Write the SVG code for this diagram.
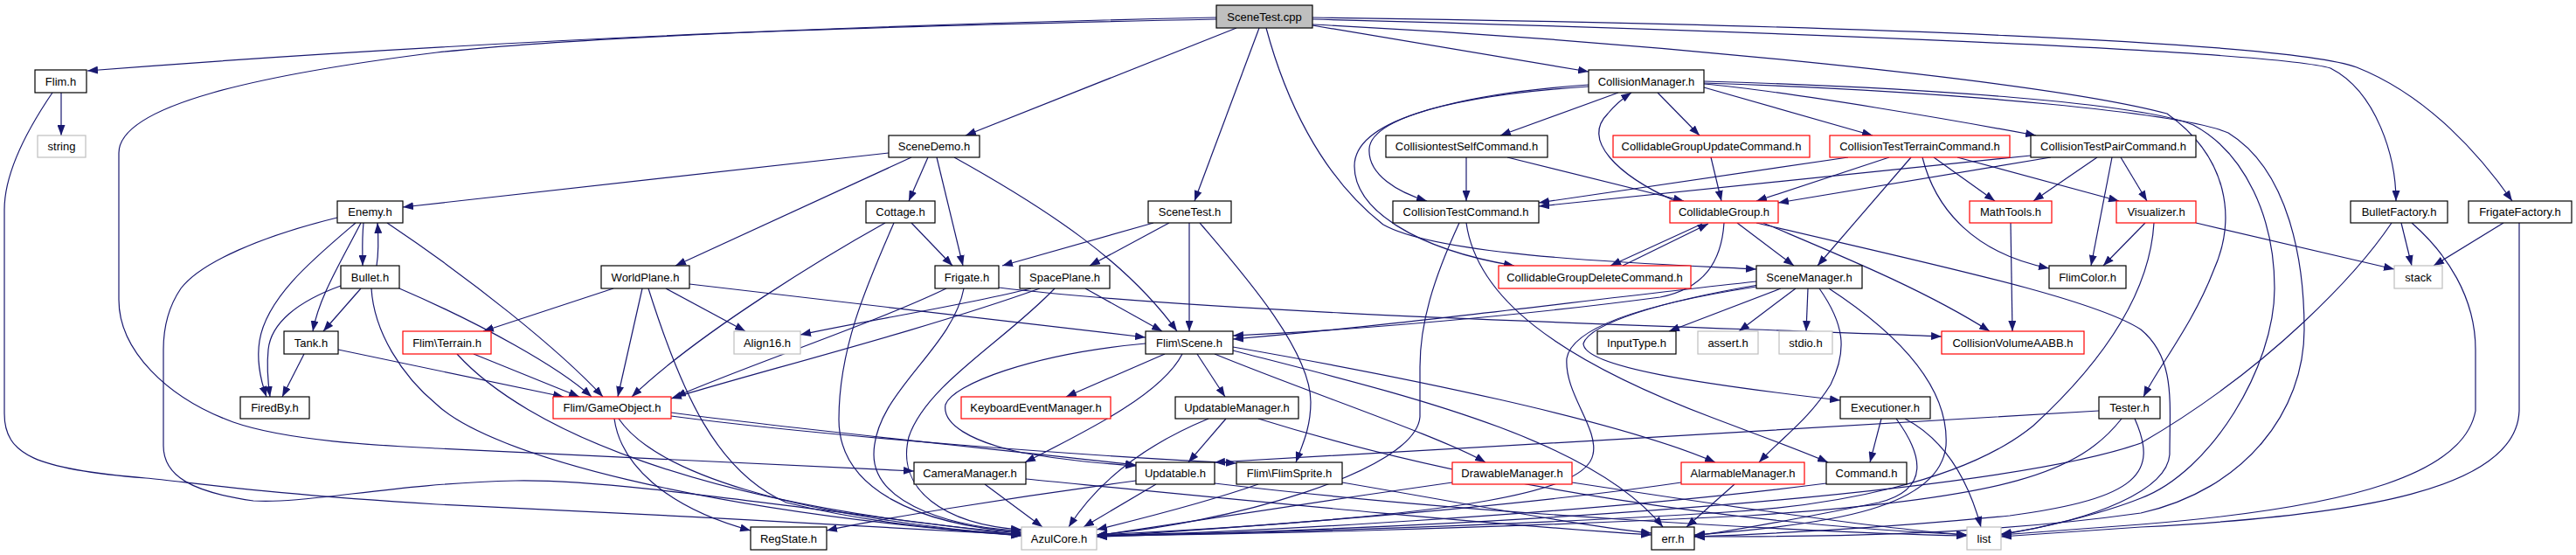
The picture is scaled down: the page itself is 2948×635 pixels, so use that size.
<svg xmlns="http://www.w3.org/2000/svg" width="2948" height="635" viewBox="0 0 2948 635">
<style>
.n rect{fill:#fff;stroke:#000;stroke-width:1.2}
.n.g rect{stroke:#bfbfbf}
.n.r rect{stroke:#ff0000}
.n.root rect{fill:#bfbfbf}
.n text{font-family:"Liberation Sans",Arial,sans-serif;font-size:13px;fill:#000;text-anchor:middle}
.e path{fill:none;stroke:#191970;stroke-width:1.2;marker-end:url(#a)}
</style>
<defs>
<marker id="a" viewBox="0 0 12 9" refX="12" refY="4.5" markerWidth="12" markerHeight="9" markerUnits="userSpaceOnUse" orient="auto"><path d="M0,0L12,4.5L0,9z" fill="#191970"/></marker>
</defs>
<rect width="2948" height="635" fill="#fff"/>
<g id="edges" class="e">
<path d="M1392,20 C1100,26 600,42 100,81"/>
<path d="M1392,22 C1100,28 700,38 500,60 C300,85 136,120 136,175 L136,343 C136,400 190,455 267,483 C330,505 440,510 500,513 L1046,539"/>
<path d="M1415,32 L1105,155"/>
<path d="M1441,32 L1367,230"/>
<path d="M1449,32 C1470,110 1510,200 1583,257 C1650,295 1900,302 2010,308"/>
<path d="M1502,29 L1818,82"/>
<path d="M1502,22 C2000,35 2600,58 2667,78 C2720,105 2742,180 2742,230"/>
<path d="M1502,20 C2100,28 2620,48 2697,77 C2780,110 2840,180 2875,230"/>
<path d="M1502,28 C1900,48 2350,95 2480,130 C2550,180 2560,250 2533,310 C2510,370 2470,420 2453,454"/>
<path d="M70,106 L70,155"/>
<path d="M60,106 C30,150 5,200 5,240 L5,473 C5,520 40,537 167,547 C220,552 300,565 500,577 C700,586 1000,602 1169,612"/>
<path d="M1017,175 L461,237"/>
<path d="M1043,180 L773,304"/>
<path d="M1062,180 L1040,230"/>
<path d="M1072,180 L1102,304"/>
<path d="M1092,180 C1200,240 1290,300 1347,379"/>
<path d="M416,255 C414,275 415,290 415,304"/>
<path d="M431,304 C434,285 433,270 432,255"/>
<path d="M413,255 C390,300 365,340 358,379"/>
<path d="M407,255 C360,295 305,340 297,390 C293,415 300,440 305,454"/>
<path d="M443,255 C540,320 640,400 690,454"/>
<path d="M386,249 C300,270 230,300 207,330 C190,355 187,380 187,400 L187,510 C187,545 220,563 290,573 C350,577 450,553 590,550 C700,548 900,580 1169,612"/>
<path d="M413,330 L370,379"/>
<path d="M390,327 C340,345 310,370 307,400 C305,420 307,440 309,454"/>
<path d="M457,330 C550,370 640,420 677,454"/>
<path d="M425,330 C428,380 460,430 500,463 C560,520 800,585 1169,613"/>
<path d="M348,405 L323,454"/>
<path d="M387,400 L645,454"/>
<path d="M702,330 L553,379"/>
<path d="M735,330 L707,454"/>
<path d="M762,330 L853,379"/>
<path d="M789,325 L1311,386"/>
<path d="M742,330 C780,450 820,540 900,575 C1000,600 1100,608 1169,611"/>
<path d="M542,405 L663,454"/>
<path d="M523,405 C600,490 800,580 1169,610"/>
<path d="M1043,255 L1090,304"/>
<path d="M1013,255 C950,290 800,380 723,454"/>
<path d="M1023,255 C990,330 960,400 960,480 C960,560 1050,600 1169,609"/>
<path d="M1083,330 C1000,370 850,420 773,454"/>
<path d="M1103,330 C1090,400 1000,450 1000,520 C1000,580 1100,605 1169,607"/>
<path d="M1143,329 C1400,360 1900,372 2222,385"/>
<path d="M1180,330 C1100,350 1000,365 916,383"/>
<path d="M1190,330 C1050,380 850,430 768,456"/>
<path d="M1242,330 L1330,379"/>
<path d="M1207,330 C1150,390 1060,440 1040,500 C1025,560 1080,600 1169,606"/>
<path d="M1320,255 L1147,304"/>
<path d="M1338,255 L1247,304"/>
<path d="M1361,255 L1361,379"/>
<path d="M1373,255 C1420,310 1500,400 1500,460 C1500,490 1490,510 1483,529"/>
<path d="M1333,405 L1220,454"/>
<path d="M1370,405 L1402,454"/>
<path d="M1353,405 C1330,450 1250,490 1173,529"/>
<path d="M1390,405 C1500,450 1650,500 1700,529"/>
<path d="M1411,397 C1600,430 1850,480 1963,529"/>
<path d="M1311,393 C1180,405 1090,440 1082,463 C1078,485 1110,505 1170,518 C1220,527 1260,530 1300,533"/>
<path d="M1411,401 C1600,450 1820,500 1903,603"/>
<path d="M1403,479 L1360,529"/>
<path d="M1383,479 C1320,505 1260,545 1223,603"/>
<path d="M1440,479 C1700,560 2000,600 2251,612"/>
<path d="M1127,554 L1193,603"/>
<path d="M1174,548 C1400,570 1700,600 1890,612"/>
<path d="M1323,554 L1240,603"/>
<path d="M1300,550 C1150,570 1000,595 946,607"/>
<path d="M1390,553 C1700,590 2100,610 2251,613"/>
<path d="M1440,554 C1380,575 1300,595 1255,606"/>
<path d="M1536,552 C1700,580 1800,600 1890,610"/>
<path d="M768,472 C900,490 1150,515 1300,532"/>
<path d="M768,476 C950,500 1250,522 1415,530"/>
<path d="M703,479 C710,530 760,580 859,607"/>
<path d="M708,479 C750,540 900,590 1169,613"/>
<path d="M1662,552 C1500,575 1300,605 1255,613"/>
<path d="M1799,552 C1950,575 2150,605 2251,612"/>
<path d="M1924,552 C1700,585 1350,608 1255,614"/>
<path d="M1985,554 L1930,603"/>
<path d="M1852,106 L1717,155"/>
<path d="M1897,106 L1945,155"/>
<path d="M1950,100 L2143,155"/>
<path d="M1950,96 C2050,105 2250,140 2330,155"/>
<path d="M1818,97 C1700,105 1570,130 1567,170 C1565,200 1600,220 1633,230"/>
<path d="M1818,99 C1650,110 1550,140 1550,190 C1550,240 1620,285 1733,304"/>
<path d="M1917,230 C1850,200 1810,160 1840,130 C1848,120 1858,112 1867,106"/>
<path d="M1950,93 C2200,100 2450,118 2510,143 C2570,175 2603,250 2603,330 C2603,420 2530,540 2450,570 C2400,590 2330,605 2290,612"/>
<path d="M1950,95 C2250,105 2500,130 2550,152 C2620,195 2637,300 2637,377 C2637,470 2570,560 2450,587 C2250,615 2050,614 1939,614"/>
<path d="M1678,180 L1678,230"/>
<path d="M1725,180 L1927,230"/>
<path d="M1958,180 L1970,230"/>
<path d="M2115,180 L1761,232"/>
<path d="M2162,180 L2010,230"/>
<path d="M2187,180 L2080,304"/>
<path d="M2213,180 L2283,230"/>
<path d="M2200,180 C2215,240 2260,290 2345,307"/>
<path d="M2240,180 L2425,230"/>
<path d="M2324,178 L1761,236"/>
<path d="M2347,180 L2035,232"/>
<path d="M2400,180 L2327,230"/>
<path d="M2417,180 L2393,304"/>
<path d="M2427,180 L2457,230"/>
<path d="M1670,255 C1640,320 1625,370 1625,420 L1625,477 C1620,540 1400,600 1255,612"/>
<path d="M1678,255 C1690,340 1780,410 1960,478 C2010,497 2060,515 2092,529"/>
<path d="M1948,256 L1843,304"/>
<path d="M1857,304 L1955,256"/>
<path d="M1988,255 L2053,304"/>
<path d="M2018,255 C2100,290 2200,330 2277,379"/>
<path d="M2010,255 C2200,300 2393,340 2450,377 C2490,410 2483,460 2483,520 C2480,560 2400,595 2290,611"/>
<path d="M1973,255 C1970,300 1950,330 1900,340 C1750,360 1550,378 1411,384"/>
<path d="M2301,255 L2303,379"/>
<path d="M2455,255 L2407,304"/>
<path d="M2513,255 L2740,308"/>
<path d="M2465,255 C2460,340 2400,420 2327,487 C2250,550 2100,580 1960,587 C1700,603 1400,611 1255,612"/>
<path d="M2010,322 C1800,345 1600,372 1411,388"/>
<path d="M2038,330 L1910,379"/>
<path d="M2055,330 L1990,379"/>
<path d="M2069,330 L2067,379"/>
<path d="M2082,330 C2110,370 2115,400 2095,440 C2070,480 2040,500 2013,529"/>
<path d="M2010,328 C1900,345 1800,370 1793,410 C1790,450 1830,490 1823,520 C1815,560 1700,590 1255,612"/>
<path d="M2093,330 C2200,400 2230,460 2227,510 C2220,580 2100,600 1939,612"/>
<path d="M2012,326 C1900,345 1820,370 1812,393 C1812,420 1950,440 2106,458"/>
<path d="M2748,255 L2760,304"/>
<path d="M2737,255 C2700,310 2600,420 2450,507 C2300,560 1800,600 1255,614"/>
<path d="M2760,255 C2800,290 2833,340 2833,400 L2833,470 C2820,540 2700,580 2450,600 L2290,612"/>
<path d="M2865,255 L2785,304"/>
<path d="M2883,255 L2883,470 C2880,560 2700,590 2450,603 L2290,614"/>
<path d="M2153,479 L2140,529"/>
<path d="M2180,479 C2220,500 2250,540 2267,603"/>
<path d="M2170,479 C2200,520 2210,560 2150,575 C2050,595 1980,608 1939,613"/>
<path d="M2090,553 C1800,590 1400,610 1255,613"/>
<path d="M2402,470 C2100,490 1700,510 1390,529"/>
<path d="M2428,479 C2380,540 2300,570 2000,590 C1700,605 1400,612 1255,613"/>
<path d="M2443,479 C2470,540 2450,570 2300,590 C2150,605 2000,612 1939,614"/>
</g>
<g id="n-SceneTest_cpp" class="n root"><rect x="1392" y="6" width="110" height="26"/><text x="1447" y="23.5">SceneTest.cpp</text></g>
<g id="n-Flim_h" class="n"><rect x="40" y="80" width="59" height="26"/><text x="69.5" y="97.5">Flim.h</text></g>
<g id="n-string" class="n g"><rect x="43" y="155" width="55" height="25"/><text x="70.5" y="172">string</text></g>
<g id="n-SceneDemo_h" class="n"><rect x="1017" y="155" width="104" height="25"/><text x="1069" y="172">SceneDemo.h</text></g>
<g id="n-Enemy_h" class="n"><rect x="386" y="230" width="75" height="25"/><text x="423.5" y="247">Enemy.h</text></g>
<g id="n-Cottage_h" class="n"><rect x="991" y="230" width="79" height="25"/><text x="1030.5" y="247">Cottage.h</text></g>
<g id="n-SceneTest_h" class="n"><rect x="1314" y="230" width="95" height="25"/><text x="1361.5" y="247">SceneTest.h</text></g>
<g id="n-Bullet_h" class="n"><rect x="390" y="304" width="67" height="26"/><text x="423.5" y="321.5">Bullet.h</text></g>
<g id="n-WorldPlane_h" class="n"><rect x="688" y="304" width="101" height="26"/><text x="738.5" y="321.5">WorldPlane.h</text></g>
<g id="n-Frigate_h" class="n"><rect x="1070" y="304" width="73" height="26"/><text x="1106.5" y="321.5">Frigate.h</text></g>
<g id="n-SpacePlane_h" class="n"><rect x="1167" y="304" width="103" height="26"/><text x="1218.5" y="321.5">SpacePlane.h</text></g>
<g id="n-Tank_h" class="n"><rect x="325" y="379" width="62" height="26"/><text x="356" y="396.5">Tank.h</text></g>
<g id="n-Terrain_h" class="n r"><rect x="461" y="379" width="101" height="26"/><text x="511.5" y="396.5">Flim\Terrain.h</text></g>
<g id="n-Align16_h" class="n g"><rect x="840" y="379" width="76" height="26"/><text x="878" y="396.5">Align16.h</text></g>
<g id="n-Scene_h" class="n"><rect x="1311" y="379" width="100" height="26"/><text x="1361" y="396.5">Flim\Scene.h</text></g>
<g id="n-FiredBy_h" class="n"><rect x="275" y="454" width="79" height="25"/><text x="314.5" y="471">FiredBy.h</text></g>
<g id="n-GameObject_h" class="n r"><rect x="633" y="454" width="135" height="25"/><text x="700.5" y="471">Flim/GameObject.h</text></g>
<g id="n-KeyboardEventManager_h" class="n r"><rect x="1100" y="454" width="171" height="25"/><text x="1185.5" y="471">KeyboardEventManager.h</text></g>
<g id="n-UpdatableManager_h" class="n"><rect x="1345" y="454" width="141" height="25"/><text x="1415.5" y="471">UpdatableManager.h</text></g>
<g id="n-CameraManager_h" class="n"><rect x="1046" y="529" width="128" height="25"/><text x="1110" y="546">CameraManager.h</text></g>
<g id="n-Updatable_h" class="n"><rect x="1300" y="529" width="90" height="25"/><text x="1345" y="546">Updatable.h</text></g>
<g id="n-FlimSprite_h" class="n"><rect x="1415" y="529" width="121" height="25"/><text x="1475.5" y="546">Flim\FlimSprite.h</text></g>
<g id="n-RegState_h" class="n"><rect x="859" y="603" width="87" height="26"/><text x="902.5" y="620.5">RegState.h</text></g>
<g id="n-AzulCore_h" class="n g"><rect x="1169" y="603" width="86" height="26"/><text x="1212" y="620.5">AzulCore.h</text></g>
<g id="n-CollisionManager_h" class="n"><rect x="1818" y="80" width="132" height="26"/><text x="1884" y="97.5">CollisionManager.h</text></g>
<g id="n-CollisiontestSelfCommand_h" class="n"><rect x="1586" y="155" width="185" height="25"/><text x="1678.5" y="172">CollisiontestSelfCommand.h</text></g>
<g id="n-CollidableGroupUpdateCommand_h" class="n r"><rect x="1846" y="155" width="225" height="25"/><text x="1958.5" y="172">CollidableGroupUpdateCommand.h</text></g>
<g id="n-CollisionTestTerrainCommand_h" class="n r"><rect x="2094" y="155" width="206" height="25"/><text x="2197" y="172">CollisionTestTerrainCommand.h</text></g>
<g id="n-CollisionTestPairCommand_h" class="n"><rect x="2324" y="155" width="189" height="25"/><text x="2418.5" y="172">CollisionTestPairCommand.h</text></g>
<g id="n-CollisionTestCommand_h" class="n"><rect x="1594" y="230" width="167" height="25"/><text x="1677.5" y="247">CollisionTestCommand.h</text></g>
<g id="n-CollidableGroup_h" class="n r"><rect x="1911" y="230" width="124" height="25"/><text x="1973" y="247">CollidableGroup.h</text></g>
<g id="n-MathTools_h" class="n r"><rect x="2254" y="230" width="94" height="25"/><text x="2301" y="247">MathTools.h</text></g>
<g id="n-Visualizer_h" class="n r"><rect x="2422" y="230" width="91" height="25"/><text x="2467.5" y="247">Visualizer.h</text></g>
<g id="n-BulletFactory_h" class="n"><rect x="2690" y="230" width="111" height="25"/><text x="2745.5" y="247">BulletFactory.h</text></g>
<g id="n-FrigateFactory_h" class="n"><rect x="2825" y="230" width="118" height="25"/><text x="2884" y="247">FrigateFactory.h</text></g>
<g id="n-CollidableGroupDeleteCommand_h" class="n r"><rect x="1715" y="304" width="220" height="26"/><text x="1825" y="321.5">CollidableGroupDeleteCommand.h</text></g>
<g id="n-SceneManager_h" class="n"><rect x="2010" y="304" width="121" height="26"/><text x="2070.5" y="321.5">SceneManager.h</text></g>
<g id="n-FlimColor_h" class="n"><rect x="2345" y="304" width="88" height="26"/><text x="2389" y="321.5">FlimColor.h</text></g>
<g id="n-stack" class="n g"><rect x="2740" y="304" width="55" height="26"/><text x="2767.5" y="321.5">stack</text></g>
<g id="n-InputType_h" class="n"><rect x="1828" y="379" width="90" height="26"/><text x="1873" y="396.5">InputType.h</text></g>
<g id="n-assert_h" class="n g"><rect x="1943" y="379" width="69" height="26"/><text x="1977.5" y="396.5">assert.h</text></g>
<g id="n-stdio_h" class="n g"><rect x="2036" y="379" width="61" height="26"/><text x="2066.5" y="396.5">stdio.h</text></g>
<g id="n-CollisionVolumeAABB_h" class="n r"><rect x="2222" y="379" width="163" height="26"/><text x="2303.5" y="396.5">CollisionVolumeAABB.h</text></g>
<g id="n-Executioner_h" class="n"><rect x="2106" y="454" width="103" height="25"/><text x="2157.5" y="471">Executioner.h</text></g>
<g id="n-Tester_h" class="n"><rect x="2402" y="454" width="70" height="25"/><text x="2437" y="471">Tester.h</text></g>
<g id="n-DrawableManager_h" class="n r"><rect x="1662" y="529" width="137" height="25"/><text x="1730.5" y="546">DrawableManager.h</text></g>
<g id="n-AlarmableManager_h" class="n r"><rect x="1924" y="529" width="141" height="25"/><text x="1994.5" y="546">AlarmableManager.h</text></g>
<g id="n-Command_h" class="n"><rect x="2090" y="529" width="92" height="25"/><text x="2136" y="546">Command.h</text></g>
<g id="n-err_h" class="n"><rect x="1890" y="603" width="49" height="26"/><text x="1914.5" y="620.5">err.h</text></g>
<g id="n-list" class="n g"><rect x="2251" y="603" width="39" height="26"/><text x="2270.5" y="620.5">list</text></g>
</svg>
